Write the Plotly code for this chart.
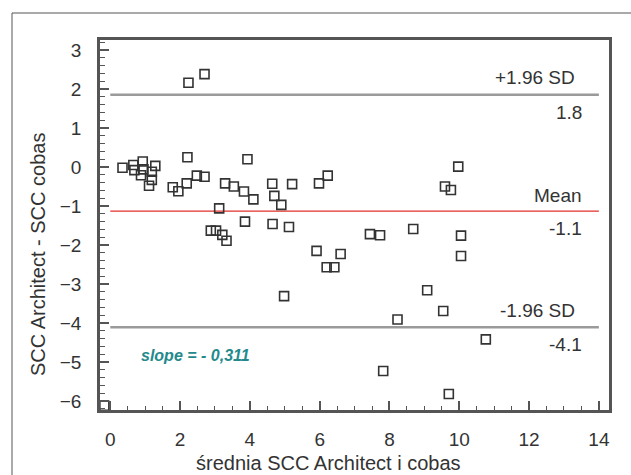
import plotly.graph_objects as go

# Bland-Altman: mean of the two methods vs. their difference
mean_vals = [0.35, 0.66, 0.93, 0.69, 0.95, 1.29, 1.19, 0.88, 1.19, 1.11,
             2.21, 1.79, 1.95, 2.19, 2.48, 2.70, 2.24, 2.70, 3.12, 3.29,
             3.54, 3.83, 4.10, 3.93, 4.64, 4.70, 4.90, 5.21, 3.86, 4.65,
             5.12, 2.88, 3.03, 3.21, 3.33, 4.98, 5.98, 6.23, 5.91, 6.60,
             6.20, 6.42, 9.97, 9.59, 9.76, 7.44, 7.73, 8.68, 10.05, 10.05,
             9.08, 9.54, 8.23, 10.76, 7.82, 9.70, -0.17]
diff_vals = [-0.02, 0.05, 0.14, -0.08, -0.06, 0.03, -0.12, -0.21, -0.33, -0.48,
             0.25, -0.52, -0.62, -0.42, -0.22, -0.25, 2.16, 2.38, -1.06, -0.42,
             -0.50, -0.63, -0.83, 0.20, -0.43, -0.74, -0.97, -0.44, -1.40, -1.46,
             -1.54, -1.63, -1.63, -1.74, -1.89, -3.31, -0.42, -0.22, -2.15, -2.23,
             -2.57, -2.57, 0.01, -0.50, -0.59, -1.72, -1.75, -1.59, -1.76, -2.28,
             -3.16, -3.69, -3.91, -4.42, -5.23, -5.82, -6.12]

mean_diff = -1.13
sd_diff = 1.52
upper = mean_diff + 1.96 * sd_diff
lower = mean_diff - 1.96 * sd_diff
line_x = [0, 14]
slope_text = "slope = - 0,311"

x_ticks = [0, 2, 4, 6, 8, 10, 12, 14]
y_ticks = [3, 2, 1, 0, -1, -2, -3, -4, -5, -6]

FONT = "Liberation Sans, Arial, sans-serif"
TXT = "#333333"
AXC = "#555555"

fig = go.Figure()

for yv, col, w in [(upper, "#9a9a9a", 2.5), (lower, "#9a9a9a", 2.5), (mean_diff, "#e0302a", 1.2)]:
    fig.add_trace(go.Scatter(x=line_x, y=[yv, yv], mode="lines",
                             line=dict(color=col, width=w),
                             hoverinfo="skip", showlegend=False))

fig.add_trace(go.Scatter(
    x=mean_vals, y=diff_vals, mode="markers",
    marker=dict(symbol="square-open", size=9, color="#333333",
                line=dict(color="#333333", width=1.6)),
    showlegend=False))

label_font = dict(family=FONT, size=19, color=TXT)
for yv, txt, shift, xr in [
    (upper, "+1.96 SD", 17, 13.37), (upper, f"{upper:.1f}", -18, 13.57),
    (mean_diff, "Mean", 16, 13.57), (mean_diff, f"{mean_diff:.1f}", -17, 13.57),
    (lower, "-1.96 SD", 17, 13.37), (lower, f"{lower:.1f}", -17, 13.57)]:
    fig.add_annotation(x=xr, y=yv, xref="x", yref="y", text=txt, showarrow=False,
                       xanchor="right", yanchor="middle", yshift=shift,
                       font=label_font)

fig.add_annotation(x=0.82, y=-4.84, xref="x", yref="y", text=f"<b><i>{slope_text}</i></b>",
                   showarrow=False, xanchor="left", yanchor="middle",
                   font=dict(family=FONT, size=16, color="#23898c"))

# axis titles
fig.add_annotation(x=-62 / 509, y=1 - (255 - 40) / 370, xref="paper", yref="paper",
                   text="SCC Architect - SCC cobas", textangle=-90, showarrow=False,
                   xanchor="center", yanchor="middle",
                   font=dict(family=FONT, size=20, color=TXT))
fig.add_annotation(x=(328 - 100) / 509, y=-(463 - 410) / 370, xref="paper", yref="paper",
                   text="średnia SCC Architect i cobas", showarrow=False,
                   xanchor="center", yanchor="middle",
                   font=dict(family=FONT, size=20, color=TXT))

# outer frame (top and left edges)
fig.add_shape(type="line", xref="paper", yref="paper",
              x0=-88 / 509, y0=1 + 27 / 370, x1=1.2, y1=1 + 27 / 370,
              line=dict(color="#555555", width=1))
fig.add_shape(type="line", xref="paper", yref="paper",
              x0=-88 / 509, y0=1 + 27 / 370, x1=-88 / 509, y1=-0.4,
              line=dict(color="#555555", width=1))

fig.update_xaxes(range=[-0.295, 14.29], tickvals=x_ticks, ticks="inside", ticklen=9,
                 tickwidth=1.5, tickcolor=AXC, showline=True, linecolor=AXC, linewidth=2.5,
                 mirror=True, showgrid=False, zeroline=False,
                 minor=dict(dtick=0.5, tick0=0, ticks="inside", ticklen=4, tickcolor=AXC,
                            tickwidth=1.2, showgrid=False),
                 tickfont=dict(family=FONT, size=19, color=TXT), ticklabelstandoff=10)
fig.update_yaxes(range=[-6.23, 3.256], tickvals=y_ticks, ticks="inside", ticklen=9,
                 tickwidth=1.5, tickcolor=AXC, showline=True, linecolor=AXC, linewidth=2.5,
                 mirror=True, showgrid=False, zeroline=False,
                 minor=dict(dtick=0.2, tick0=0, ticks="inside", ticklen=5, tickcolor=AXC,
                            tickwidth=1.2, showgrid=False),
                 tickfont=dict(family=FONT, size=19, color=TXT), ticklabelstandoff=12)

fig.update_layout(width=631, height=475, margin=dict(l=100, r=22, t=40, b=65),
                  paper_bgcolor="white", plot_bgcolor="white", showlegend=False)

fig.write_html("out.html")
